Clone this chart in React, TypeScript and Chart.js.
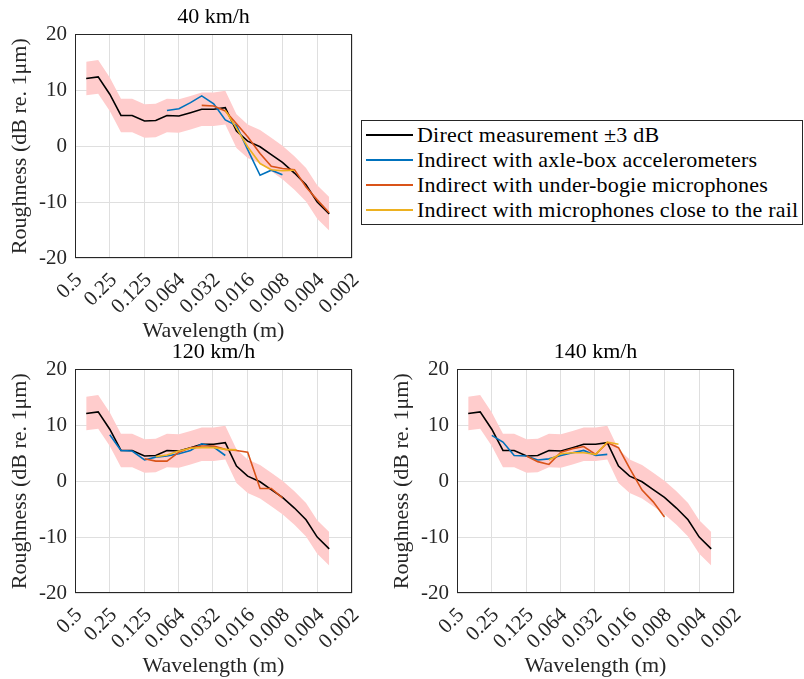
import { useEffect, useRef } from "react";
import { Chart, registerables } from "chart.js";

Chart.register(...registerables);

// ---- data ----
const WAVELENGTHS = [0.4, 0.315, 0.25, 0.2, 0.16, 0.125, 0.1, 0.08, 0.063, 0.05, 0.04, 0.0315, 0.025, 0.02, 0.016, 0.0125, 0.01, 0.008, 0.0063, 0.005, 0.004, 0.00315];
const X_TICKS = [0.5, 0.25, 0.125, 0.064, 0.032, 0.016, 0.008, 0.004, 0.002];
const X_TICK_LABELS = ["0.5", "0.25", "0.125", "0.064", "0.032", "0.016", "0.008", "0.004", "0.002"];
const Y_TICKS = [-20, -10, 0, 10, 20];

const DIRECT = [12.1, 12.4, 9.3, 5.5, 5.5, 4.5, 4.6, 5.5, 5.4, 6.0, 6.6, 6.6, 6.9, 2.7, 0.9, -0.1, -1.5, -2.9, -4.8, -6.9, -10.0, -12.1];
const DIRECT_TOLERANCE = 3;

const N = null;
const AXLE_40 = [N, N, N, N, N, N, N, 6.4, 6.7, 7.8, 9.0, 7.6, 4.7, 3.7, -0.6, -5.2, -4.3, -5.1, N, N, N, N];
const BOGIE_40 = [N, N, N, N, N, N, N, N, N, N, 7.3, 7.2, 6.3, 4.0, 1.7, -1.3, -3.6, -4.0, -4.2, -7.3, -9.6, -11.9];
const RAIL_40 = [N, N, N, N, N, N, N, N, N, N, N, N, 6.4, 3.2, -0.1, -3.1, -4.2, -4.4, -4.3, N, N, N];

const AXLE_120 = [N, N, 8.3, 5.5, 5.4, 3.8, 4.3, 4.5, 4.9, 5.5, 6.7, 6.1, 4.6, N, N, N, N, N, N, N, N, N];
const BOGIE_120 = [N, N, N, N, N, 4.0, 3.6, 3.6, 5.2, 6.0, 6.3, 6.3, 5.7, 5.5, 5.2, -1.3, -1.3, -3.0, N, N, N, N];
const RAIL_120 = [N, N, N, N, N, N, 4.4, 4.7, 5.4, 5.9, 6.0, 6.0, 5.7, 5.6, N, N, N, N, N, N, N, N];

const AXLE_140 = [N, N, 8.2, 7.0, 4.6, 4.5, 3.8, 4.0, 4.6, 5.1, 5.5, 4.6, 4.8, N, N, N, N, N, N, N, N, N];
const BOGIE_140 = [N, N, N, N, N, 4.5, 3.5, 3.0, 5.2, 5.8, 6.2, 4.8, 6.9, 6.0, 2.3, -1.6, -3.7, -6.4, N, N, N, N];
const RAIL_140 = [N, N, N, N, N, N, N, 3.8, 4.9, 5.1, 5.1, 4.8, 7.0, 6.6, N, N, N, N, N, N, N, N];

const LEGEND_LABELS = [
  "Direct measurement \u00b13 dB",
  "Indirect with axle-box accelerometers",
  "Indirect with under-bogie microphones",
  "Indirect with microphones close to the rail",
];

// ---- styles ----
const FONT = "'Liberation Serif', 'Times New Roman', serif";
const TEXT = "#262626";
const COLORS = ["#000000", "#0072BD", "#D95319", "#EDB120"];
const BAND = "#ffcccc";
const GRID = "#dfdfdf";
const CANVAS_W = 380;
const CANVAS_H = 344;
const AREA_LEFT = 75;
const AREA_BOTTOM = 258;

const boxPlugin = {
  id: "box",
  afterDatasetsDraw(chart: any) {
    const { ctx, chartArea } = chart;
    ctx.save();
    ctx.strokeStyle = TEXT;
    ctx.lineWidth = 1;
    const l = Math.round(chartArea.left) + 0.5;
    const t = Math.round(chartArea.top) + 0.5;
    const r = Math.round(chartArea.right) - 0.5;
    const b = Math.round(chartArea.bottom) - 0.5;
    ctx.strokeRect(l, t, r - l, b - t);
    ctx.restore();
  },
};

function points(arr: (number | null)[]) {
  return WAVELENGTHS.map((x, i) => ({ x, y: arr[i] })).filter((p) => p.y !== null);
}

function RoughnessChart(props: { title: string; axle: (number | null)[]; bogie: (number | null)[]; rail: (number | null)[]; left: number; top: number }) {
  const ref = useRef<HTMLCanvasElement>(null);
  useEffect(() => {
    const line = (label: string, data: any, color: string, order: number) => ({
      label, data, borderColor: color, backgroundColor: color, borderWidth: 1.6, pointRadius: 0, fill: false, order,
    });
    const chart = new Chart(ref.current as HTMLCanvasElement, {
      type: "line",
      data: {
        datasets: [
          { label: "upper", data: points(DIRECT.map((v) => v + DIRECT_TOLERANCE)), borderWidth: 0, borderColor: "rgba(0,0,0,0)", backgroundColor: BAND, pointRadius: 0, fill: "+1", order: 6 },
          { label: "lower", data: points(DIRECT.map((v) => v - DIRECT_TOLERANCE)), borderWidth: 0, borderColor: "rgba(0,0,0,0)", backgroundColor: BAND, pointRadius: 0, fill: false, order: 5 },
          line(LEGEND_LABELS[0], points(DIRECT), COLORS[0], 4),
          line(LEGEND_LABELS[1], points(props.axle), COLORS[1], 3),
          line(LEGEND_LABELS[2], points(props.bogie), COLORS[2], 2),
          line(LEGEND_LABELS[3], points(props.rail), COLORS[3], 1),
        ] as any,
      },
      options: {
        animation: false,
        responsive: false,
        maintainAspectRatio: false,
        layout: { padding: { left: 0, right: CANVAS_W - 352, top: 0, bottom: 0 } },
        elements: { line: { tension: 0 } },
        plugins: {
          legend: { display: false },
          tooltip: { enabled: false },
          title: { display: true, fullSize: false, text: props.title, color: "#000", font: { family: FONT, size: 22, weight: "normal" }, padding: { top: 4, bottom: 4 } },
        },
        scales: {
          x: {
            type: "logarithmic",
            reverse: true,
            min: 0.002,
            max: 0.5,
            afterBuildTicks: (s: any) => { s.ticks = X_TICKS.map((v) => ({ value: v })); },
            afterFit: (s: any) => { s.height = CANVAS_H - AREA_BOTTOM; },
            ticks: {
              autoSkip: false, maxRotation: 45, minRotation: 45, padding: 10, labelOffset: 4, color: TEXT,
              font: { family: FONT, size: 21 },
              callback: (_v: any, i: number) => X_TICK_LABELS[i],
            },
            grid: { color: GRID, drawTicks: false, lineWidth: 1 },
            border: { display: false },
            title: { display: true, text: "Wavelength (m)", color: TEXT, font: { family: FONT, size: 22 }, padding: { top: 0, bottom: 0 } },
          },
          y: {
            type: "linear",
            min: -20,
            max: 20,
            afterBuildTicks: (s: any) => { s.ticks = Y_TICKS.map((v) => ({ value: v })); },
            afterFit: (s: any) => { s.width = AREA_LEFT; },
            ticks: { padding: 8, color: TEXT, font: { family: FONT, size: 21 } },
            grid: { color: GRID, drawTicks: false, lineWidth: 1 },
            border: { display: false },
            title: { display: true, text: "Roughness (dB re. 1\u03bcm)", color: TEXT, font: { family: FONT, size: 22 }, padding: { top: 7, bottom: 0 } },
          },
        },
      } as any,
      plugins: [boxPlugin],
    });
    return () => chart.destroy();
  }, []);
  return (
    <canvas
      ref={ref}
      width={CANVAS_W}
      height={CANVAS_H}
      style={{ position: "absolute", left: props.left, top: props.top, width: CANVAS_W, height: CANVAS_H }}
    />
  );
}

function Legend() {
  return (
    <div
      style={{
        position: "absolute", left: 361, top: 120, width: 442, height: 105, boxSizing: "border-box",
        border: "1px solid #262626", background: "#fff", fontFamily: FONT, fontSize: 22, color: "#000", letterSpacing: "0.2px",
      }}
    >
      {LEGEND_LABELS.map((label, i) => (
        <div key={label} style={{ position: "absolute", left: 0, top: 1 + 25 * i, height: 25, width: 440, lineHeight: "25px", whiteSpace: "nowrap" }}>
          <div style={{ position: "absolute", left: 4, top: 12, width: 47, height: 2, background: COLORS[i] }} />
          <span style={{ position: "absolute", left: 55, top: 0 }}>{label}</span>
        </div>
      ))}
    </div>
  );
}

export default function App() {
  return (
    <div style={{ position: "absolute", left: 0, top: 0, width: 804, height: 679, overflow: "hidden", background: "#fff" }}>
      <RoughnessChart title="40 km/h" axle={AXLE_40} bogie={BOGIE_40} rail={RAIL_40} left={0} top={0} />
      <RoughnessChart title="120 km/h" axle={AXLE_120} bogie={BOGIE_120} rail={RAIL_120} left={0} top={335} />
      <RoughnessChart title="140 km/h" axle={AXLE_140} bogie={BOGIE_140} rail={RAIL_140} left={382} top={335} />
      <Legend />
    </div>
  );
}
